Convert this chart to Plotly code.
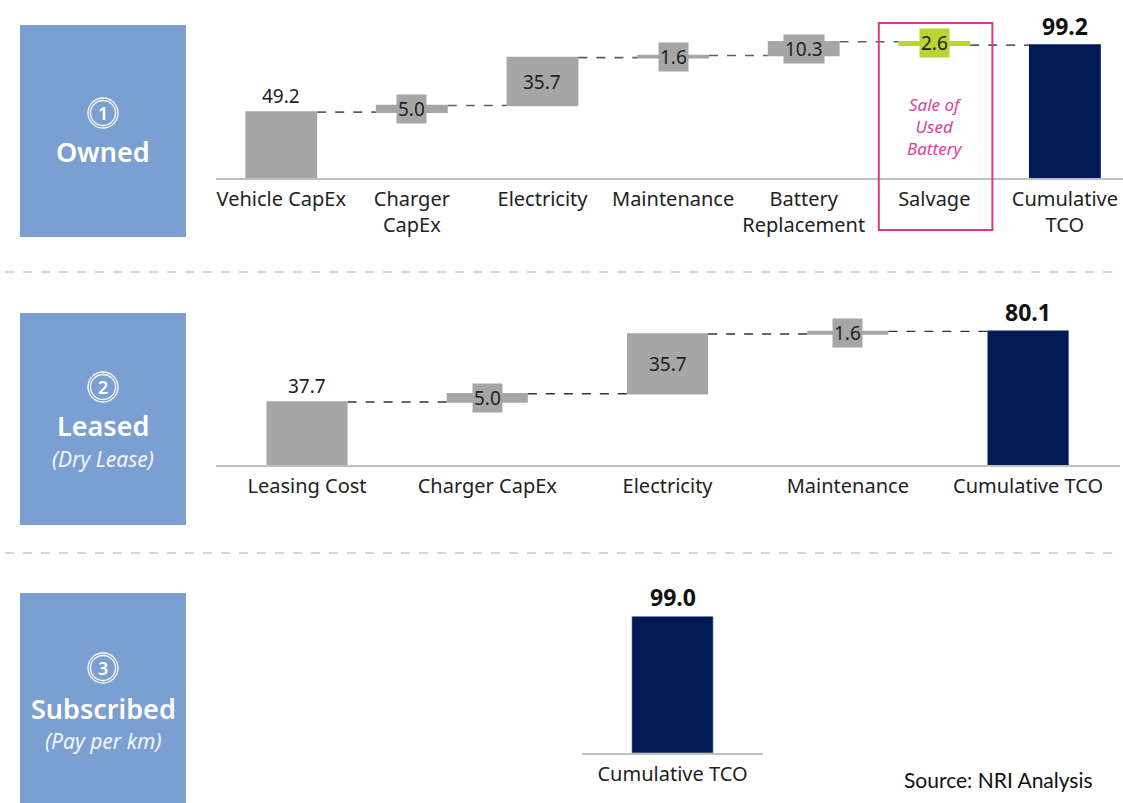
import plotly.graph_objects as go

# ---- data -------------------------------------------------------------
owned_cats = ["Vehicle CapEx", "Charger<br>CapEx", "Electricity", "Maintenance",
              "Battery<br>Replacement", "Salvage", "Cumulative<br>TCO"]
owned_vals = [49.2, 5.0, 35.7, 1.6, 10.3, -2.6, 99.2]
owned_measure = ["relative", "relative", "relative", "relative", "relative", "relative", "absolute"]

leased_cats = ["Leasing Cost", "Charger CapEx", "Electricity", "Maintenance", "Cumulative TCO"]
leased_vals = [37.7, 5.0, 35.7, 1.6, 80.1]
leased_measure = ["relative", "relative", "relative", "relative", "absolute"]

sub_cats = ["Cumulative TCO"]
sub_vals = [99.0]

scheme_nums = ["1", "2", "3"]
scheme_names = ["Owned", "Leased", "Subscribed"]
scheme_notes = [None, "(Dry Lease)", "(Pay per km)"]

# ---- style ------------------------------------------------------------
W, H = 1123, 803
GREY = "#a6a6a6"
GREEN = "#bad532"
NAVY = "#021a54"
BOX = "#7c9fd1"
PINK = "#d9368c"
FONT = "Noto Sans"
TXT = "#222222"


def px(x):
    return x / W


def py(y):
    return 1 - y / H


fig = go.Figure()

# ---- panel 1: owned waterfall ----------------------------------------
fig.add_trace(go.Waterfall(
    x=list(range(len(owned_cats))), y=owned_vals, measure=owned_measure,
    width=0.55, xaxis="x", yaxis="y",
    increasing=dict(marker=dict(color=GREY)),
    decreasing=dict(marker=dict(color=GREEN)),
    totals=dict(marker=dict(color=NAVY)),
    connector=dict(mode="between", line=dict(color="#5f5f5f", dash="dash", width=1.6)),
    hoverinfo="skip", showlegend=False,
))

# ---- panel 2: leased waterfall ---------------------------------------
fig.add_trace(go.Waterfall(
    x=list(range(len(leased_cats))), y=leased_vals, measure=leased_measure,
    width=0.45, xaxis="x2", yaxis="y2",
    increasing=dict(marker=dict(color=GREY)),
    decreasing=dict(marker=dict(color=GREEN)),
    totals=dict(marker=dict(color=NAVY)),
    connector=dict(mode="between", line=dict(color="#333333", dash="dash", width=1.4)),
    hoverinfo="skip", showlegend=False,
))

# ---- panel 3: subscribed single bar -----------------------------------
fig.add_trace(go.Bar(
    x=list(range(len(sub_cats))), y=sub_vals, width=0.45,
    marker=dict(color=NAVY), xaxis="x3", yaxis="y3",
    hoverinfo="skip", showlegend=False,
))

annotations = []
TOTAL_FONT = dict(family=FONT, size=23, color="#111111")
VALUE_FONT = dict(family=FONT, size=19, color=TXT)


def waterfall_labels(vals, measures, xref, yref, bar_col_fn):
    level = 0.0
    out = []
    for i, (v, m) in enumerate(zip(vals, measures)):
        if m == "absolute":
            out.append(dict(x=i, y=v, xref=xref, yref=yref, text=f"<b>{v:.1f}</b>",
                            showarrow=False, yanchor="bottom", yshift=1, font=TOTAL_FONT))
            level = v
            continue
        start, end = level, level + v
        if i == 0:
            out.append(dict(x=i, y=end, xref=xref, yref=yref, text=f"{abs(v):.1f}",
                            showarrow=False, yanchor="bottom", yshift=1, font=VALUE_FONT))
        else:
            out.append(dict(x=i, y=(start + end) / 2, xref=xref, yref=yref,
                            text=f"{abs(v):.1f}", showarrow=False, yanchor="middle",
                            bgcolor=bar_col_fn(v), borderpad=1, font=VALUE_FONT))
        level = end
    return out


col = lambda v: GREY if v >= 0 else GREEN
annotations += waterfall_labels(owned_vals, owned_measure, "x", "y", col)
annotations += waterfall_labels(leased_vals, leased_measure, "x2", "y2", col)
annotations.append(dict(x=0, y=sub_vals[0], xref="x3", yref="y3", text=f"<b>{sub_vals[0]:.1f}</b>",
                        showarrow=False, yanchor="bottom", yshift=1, font=TOTAL_FONT))

# salvage note
annotations.append(dict(x=5, y=py(127), xref="x", yref="paper", yanchor="middle",
                        xanchor="center", text="<i>Sale of<br>Used<br>Battery</i>",
                        showarrow=False, font=dict(family=FONT, size=17, color="#e0409a")))

shapes = []

# left-hand scheme boxes: (top, bottom, circle centre y, name y, note y)
box_layout = [
    (25, 237, 113, 152, None),
    (313, 525, 387, 425, 459),
    (593, 812, 668, 708, 741),
]
CX = 103
for (top, bottom, cy, ny, sy), num, name, note in zip(box_layout, scheme_nums,
                                                        scheme_names, scheme_notes):
    shapes.append(dict(type="rect", xref="paper", yref="paper",
                       x0=px(20), x1=px(186), y0=py(bottom), y1=py(top),
                       fillcolor=BOX, line=dict(width=0), layer="below"))
    for r in (15, 12.5):
        shapes.append(dict(type="circle", xref="paper", yref="paper",
                           x0=px(CX - r), x1=px(CX + r), y0=py(cy + r), y1=py(cy - r),
                           line=dict(color="white", width=1.3)))
    annotations.append(dict(x=px(CX), y=py(cy), xref="paper", yref="paper", text=num,
                            showarrow=False, xanchor="center", yanchor="middle",
                            font=dict(family=FONT, size=18, color="white", weight=600)))
    annotations.append(dict(x=px(CX), y=py(ny), xref="paper", yref="paper", text=name,
                            showarrow=False, xanchor="center", yanchor="middle",
                            font=dict(family=FONT, size=27, color="white", weight=600)))
    if note:
        annotations.append(dict(x=px(CX), y=py(sy), xref="paper", yref="paper",
                                text=f"<i>{note}</i>", showarrow=False,
                                xanchor="center", yanchor="middle",
                                font=dict(family=FONT, size=21, color="#f2f5fb")))

# dashed separators between panels
for y in (272, 553):
    shapes.append(dict(type="line", xref="paper", yref="paper", x0=px(5), x1=px(1120),
                       y0=py(y), y1=py(y), line=dict(color="#b7cbe9", dash="dash", width=1.5)))

# highlight frame round the salvage column
shapes.append(dict(type="rect", xref="x", yref="paper", x0=4.575, x1=5.445,
                   y0=py(230), y1=py(23), line=dict(color=PINK, width=2),
                   fillcolor="rgba(0,0,0,0)"))

annotations.append(dict(x=px(1095), y=py(779), xref="paper", yref="paper",
                        text="Source: NRI Analysis", showarrow=False,
                        xanchor="right", yanchor="middle",
                        font=dict(family="Lato", size=21, color="#111111")))

tickfont = dict(family=FONT, size=20, color=TXT)
xcommon = dict(showline=True, linecolor="#c0c0c0", linewidth=2, showgrid=False,
               zeroline=False, ticks="", tickfont=tickfont, ticklabelstandoff=2,
               fixedrange=True)
ycommon = dict(showline=False, showgrid=False, zeroline=False, showticklabels=False, fixedrange=True)

fig.update_layout(
    width=W, height=H, margin=dict(l=0, r=0, t=0, b=0),
    paper_bgcolor="white", plot_bgcolor="rgba(0,0,0,0)",
    xaxis=dict(domain=[px(216), 1.0], range=[-0.5, 6.445],
               tickvals=list(range(len(owned_cats))), ticktext=owned_cats,
               anchor="y", **xcommon),
    yaxis=dict(domain=[py(178), py(20)], range=[0, 118], anchor="x", **ycommon),
    xaxis2=dict(domain=[px(216), px(1120)], range=[-0.505, 4.51],
                tickvals=list(range(len(leased_cats))), ticktext=leased_cats,
                anchor="y2", **xcommon),
    yaxis2=dict(domain=[py(465), py(300)], range=[0, 98.8], anchor="x2", **ycommon),
    xaxis3=dict(domain=[px(582), px(763)], range=[-0.5, 0.5],
                tickvals=[0], ticktext=sub_cats, anchor="y3", **xcommon),
    yaxis3=dict(domain=[py(753), py(590)], range=[0, 118], anchor="x3", **ycommon),
    shapes=shapes, annotations=annotations,
)

fig.write_html("out.html")
